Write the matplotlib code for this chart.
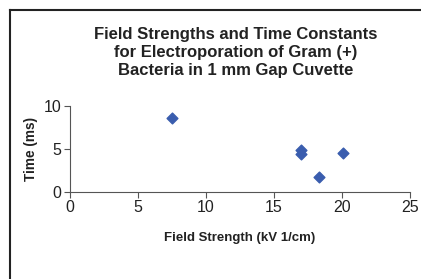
import matplotlib
matplotlib.use("Agg")
import matplotlib.pyplot as plt
from matplotlib.lines import Line2D

field_strength = [7.5, 17.0, 17.0, 18.3, 20.1]
time_ms = [8.65, 4.9, 4.4, 1.75, 4.55]
x_ticks = [0, 5, 10, 15, 20, 25]
y_ticks = [0, 5, 10]

fam = ['Liberation Sans Narrow', 'Liberation Sans', 'DejaVu Sans']
plt.rcParams['font.family'] = fam

W, H = 421, 279
fig = plt.figure(figsize=(W / 100, H / 100), dpi=100)
fig.add_artist(Line2D([9.5 / W, 9.5 / W], [0, 1 - 9.5 / H], transform=fig.transFigure, color='#222222', lw=1.5))
fig.add_artist(Line2D([9.5 / W, 1], [1 - 9.5 / H, 1 - 9.5 / H], transform=fig.transFigure, color='#222222', lw=1.5))

left, right, top, bottom = 70, 410, 106, 192
ax = fig.add_axes([left / W, 1 - bottom / H, (right - left) / W, (bottom - top) / H])
ax.scatter(field_strength, time_ms, marker='D', s=30, color='#3A5DAE', zorder=3, clip_on=False)
ax.set_xlim(0, 25)
ax.set_ylim(0, 10)
ax.set_xticks(x_ticks)
ax.set_yticks(y_ticks)
for s in ['top', 'right']:
    ax.spines[s].set_visible(False)
for s in ['left', 'bottom']:
    ax.spines[s].set_color('#555555')
    ax.spines[s].set_linewidth(0.8)
ax.tick_params(axis='both', direction='out', length=4, width=0.8, color='#555555', labelsize=11.5, pad=2, labelcolor='#222222')
ax.set_xlabel('Field Strength (kV 1/cm)', fontsize=9.5, fontweight='bold', labelpad=12, color='#222222')
ax.set_ylabel('Time (ms)', fontsize=9.8, fontweight='bold', labelpad=4, color='#222222')

fig.text(236 / W, 1 - 53 / H, 'Field Strengths and Time Constants\nfor Electroporation of Gram (+)\nBacteria in 1 mm Gap Cuvette',
         ha='center', va='center', fontsize=12, fontweight='bold', linespacing=1.25, color='#222222')

fig.savefig('out.png', dpi=100)
